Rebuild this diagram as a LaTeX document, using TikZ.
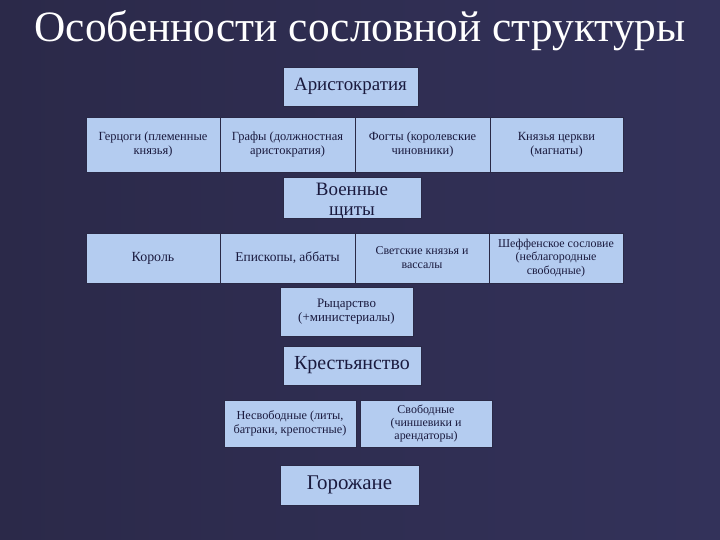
\documentclass[tikz,border=0pt]{standalone}
\usepackage{fontspec}
\setmainfont{Liberation Serif}
\definecolor{bgA}{HTML}{2B2949}
\definecolor{bgB}{HTML}{33325A}
\definecolor{boxfill}{HTML}{B4CCF0}
\definecolor{boxline}{HTML}{2A2946}
\definecolor{boxtext}{HTML}{1A1A3E}
\tikzset{
  box/.style={fill=boxfill, draw=boxline, line width=0.9bp, inner sep=1bp,
    align=center, text=boxtext, font=\fontsize{12.5}{14}\selectfont},
  bigbox/.style={box, font=\fontsize{20}{21}\selectfont},
  boxlabel/.style={anchor=base, inner sep=0pt, text=boxtext, font=\fontsize{19}{20}\selectfont},
}
\newcommand{\bx}[7][box]{% style, name, x1,y1,x2,y2, text
  \node[#1, minimum width={(#5-#3)*1bp}, minimum height={(#6-#4)*1bp}]
        (#2) at ({(#3+#5)/2},{(#4+#6)/2}) {#7};}
\begin{document}
\begin{tikzpicture}[x=1bp,y=-1bp]
\useasboundingbox (0,0) rectangle (720,540);
\shade[left color=bgA, right color=bgB] (0,0) rectangle (720,540);
\node[text=white, font=\fontsize{43.5}{46}\selectfont, anchor=base] (title) at (360,42) {Особенности сословной структуры};
\bx[box, font=\fontsize{19}{20}\selectfont]{arist}{283}{67}{418}{106}{Аристократия}
\bx{g1}{86}{117}{220}{172}{Герцоги (племенные\\князья)}
\bx{g2}{220}{117}{355}{172}{Графы (должностная\\аристократия)}
\bx{g3}{355}{117}{490}{172}{Фогты (королевские\\чиновники)}
\bx{g4}{490}{117}{623}{172}{Князья церкви\\(магнаты)}
\bx{voen}{283}{177}{421}{218}{}
\node[boxlabel] (voen1) at (352,196) {Военные};
\node[boxlabel] (voen2) at (352,216) {щиты};
\bx[box, font=\fontsize{14}{14}\selectfont]{korol}{86}{233}{220}{283}{Король}
\bx[box, font=\fontsize{13.5}{14}\selectfont]{epis}{220}{233}{355}{283}{Епископы, аббаты}
\bx[box, font=\fontsize{12}{14}\selectfont]{svet}{355}{233}{489}{283}{Светские князья и\\вассалы}
\bx[box, font=\fontsize{12}{13.5}\selectfont]{sheff}{489}{233}{623}{283}{Шеффенское сословие\\(неблагородные\\свободные)}
\bx[box, font=\fontsize{13}{14}\selectfont]{ryc}{280}{287}{413}{336}{Рыцарство\\(+министериалы)}
\bx[bigbox]{krest}{283}{346}{421}{385}{Крестьянство}
\bx[box, font=\fontsize{12.3}{14}\selectfont]{nesv}{224}{400}{356}{447}{Несвободные (литы,\\батраки, крепостные)}
\bx[box, font=\fontsize{12}{13.5}\selectfont]{svob}{360}{400}{492}{447}{Свободные\\(чиншевики и\\арендаторы)}
\bx[box, font=\fontsize{21}{22}\selectfont]{gor}{280}{465}{419}{505}{Горожане}
\end{tikzpicture}
\end{document}
